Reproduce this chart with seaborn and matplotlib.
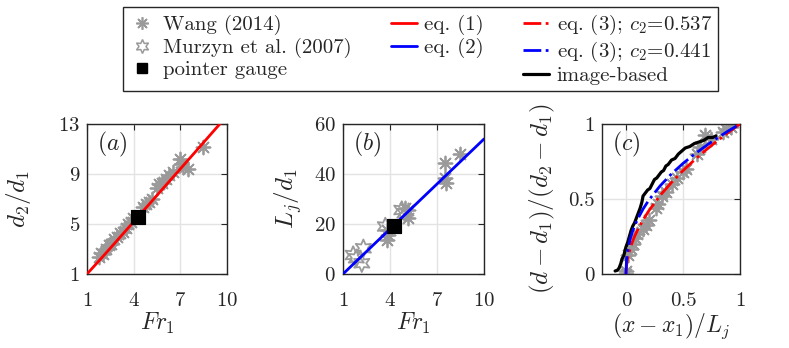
import numpy as np
import pandas as pd
import seaborn as sns
import matplotlib.pyplot as plt
from matplotlib.lines import Line2D

# panel (a): conjugate depth ratio
wang_fr_a = [1.75, 1.9, 2.05, 2.2, 2.4, 2.55, 2.75, 2.95, 3.1, 3.3, 3.5, 3.65, 3.8, 3.95,
             4.6, 4.8, 5.0, 5.2, 5.5, 5.65, 5.8, 6.1, 6.3, 6.5, 7.0, 7.05, 7.2, 7.5, 8.45]
wang_d2 = [2.4, 2.7, 2.6, 3.0, 3.3, 3.4, 3.8, 4.0, 4.3, 4.4, 4.7, 5.0, 5.2, 5.5,
           6.4, 6.6, 6.8, 7.0, 7.9, 8.2, 8.3, 8.6, 8.9, 9.2, 10.2, 9.8, 9.6, 9.4, 11.2]
eq1_fr = [1, 2, 3, 4, 5, 6, 7, 8, 9, 10]
eq1_d2 = [1.0, 2.37, 3.77, 5.18, 6.59, 8.0, 9.41, 10.82, 12.24, 13.65]

# panel (b): jump length
wang_fr_b = [3.8, 3.8, 3.9, 4.95, 5.15, 5.15, 7.5, 7.5, 7.55, 8.5]
wang_lj = [17.6, 13.6, 15.5, 26.3, 25.7, 22.3, 44.4, 38.3, 36.3, 48.2]
murzyn_fr = [1.65, 1.85, 2.2, 2.3, 3.7, 4.75, 4.95]
murzyn_lj = [7.6, 6.3, 4.3, 10.3, 19.0, 25.6, 24.3]
eq2_fr = [1, 10]
eq2_lj = [0, 54]

# pointer gauge
pg_fr = [4.25]
pg_d2 = [5.6]
pg_lj = [19.3]

# panel (c): free-surface profile
wang_xc = [0.0, 0.0, 0.02, 0.04, 0.06, 0.08, 0.1, 0.15, 0.18, 0.2, 0.26, 0.28, 0.32, 0.35,
           0.4, 0.45, 0.5, 0.53, 0.62, 0.65, 0.69, 0.75, 0.85, 0.88, 0.92]
wang_yc = [0.0, 0.02, 0.13, 0.17, 0.2, 0.24, 0.27, 0.3, 0.33, 0.36, 0.44, 0.47, 0.52, 0.55,
           0.6, 0.64, 0.68, 0.7, 0.8, 0.85, 0.93, 0.9, 0.95, 0.97, 0.98]
eq3_x = [0, 0.005, 0.01, 0.02, 0.04, 0.06, 0.08, 0.1, 0.15, 0.2, 0.3, 0.4, 0.5, 0.6, 0.7, 0.8, 0.9, 1.0]
eq3_y537 = [0, 0.058, 0.084, 0.122, 0.178, 0.221, 0.258, 0.29, 0.361, 0.421, 0.524, 0.611,
            0.689, 0.76, 0.826, 0.887, 0.945, 1.0]
eq3_y441 = [0, 0.097, 0.131, 0.178, 0.242, 0.289, 0.328, 0.362, 0.433, 0.492, 0.588, 0.668,
            0.737, 0.798, 0.854, 0.906, 0.955, 1.0]
img_x = [-0.095, -0.075, -0.06, -0.045, -0.035, -0.02, -0.01, 0.0, 0.015, 0.03, 0.045, 0.06,
         0.075, 0.09, 0.11, 0.125, 0.14, 0.15, 0.17, 0.19, 0.21, 0.23, 0.25, 0.27, 0.29, 0.31,
         0.33, 0.35, 0.37, 0.40, 0.43, 0.46, 0.49, 0.52, 0.56, 0.60, 0.64, 0.68, 0.72, 0.76, 0.79]
img_y = [0.02, 0.025, 0.04, 0.07, 0.10, 0.12, 0.15, 0.18, 0.21, 0.25, 0.29, 0.32, 0.34, 0.37,
         0.41, 0.44, 0.48, 0.52, 0.54, 0.56, 0.57, 0.60, 0.63, 0.64, 0.66, 0.68, 0.69, 0.72,
         0.73, 0.76, 0.77, 0.80, 0.82, 0.84, 0.85, 0.87, 0.88, 0.89, 0.91, 0.91, 0.92]

sns.set_style("white")
plt.rcParams['font.family'] = 'serif'
plt.rcParams['font.serif'] = ['cmr10']
plt.rcParams['mathtext.fontset'] = 'cm'
plt.rcParams['axes.formatter.use_mathtext'] = True

gray = '#9a9a9a'
dark = '#262626'
asterisk = (8, 2, 0)
hexagram = (6, 1, 0)

fig = plt.figure(figsize=(7.89, 3.48), dpi=100)
W, H = 789, 348
def add_ax(x0, x1, y0=124, y1=274):
    return fig.add_axes([x0 / W, 1 - y1 / H, (x1 - x0) / W, (y1 - y0) / H])

ax_a = add_ax(87, 227)
ax_b = add_ax(343, 484)
ax_c = add_ax(602, 740)

# (a)
sns.scatterplot(x=wang_fr_a, y=wang_d2, ax=ax_a, marker=asterisk, s=100, color=gray,
                linewidth=1.3, zorder=2)
sns.lineplot(x=eq1_fr, y=eq1_d2, ax=ax_a, color='red', lw=2, zorder=3)
sns.scatterplot(x=pg_fr, y=pg_d2, ax=ax_a, marker='s', s=110, color='black',
                edgecolor='black', zorder=4)
ax_a.set(xlim=(1, 10), ylim=(1, 13), xticks=[1, 4, 7, 10], yticks=[1, 5, 9, 13])
ax_a.set_xlabel('$Fr_1$')
ax_a.set_ylabel('$d_2/d_1$')

# (b)
sns.scatterplot(x=wang_fr_b, y=wang_lj, ax=ax_b, marker=asterisk, s=100, color=gray,
                linewidth=1.3, zorder=2)
sns.scatterplot(x=murzyn_fr, y=murzyn_lj, ax=ax_b, marker=hexagram, s=160,
                facecolor='none', edgecolor=gray, linewidth=1.3, zorder=2)
sns.lineplot(x=eq2_fr, y=eq2_lj, ax=ax_b, color='blue', lw=2, zorder=3)
sns.scatterplot(x=pg_fr, y=pg_lj, ax=ax_b, marker='s', s=110, color='black',
                edgecolor='black', zorder=4)
ax_b.set(xlim=(1, 10), ylim=(0, 60), xticks=[1, 4, 7, 10], yticks=[0, 20, 40, 60])
ax_b.set_xlabel('$Fr_1$')
ax_b.set_ylabel('$L_j/d_1$')

# (c)
sns.scatterplot(x=wang_xc, y=wang_yc, ax=ax_c, marker=asterisk, s=100, color=gray,
                linewidth=1.3, zorder=2)
sns.lineplot(x=img_x, y=img_y, ax=ax_c, color='black', lw=2.3, sort=False, zorder=3)
sns.lineplot(x=eq3_x, y=eq3_y537, ax=ax_c, color='red', lw=2, ls='-.', zorder=4)
sns.lineplot(x=eq3_x, y=eq3_y441, ax=ax_c, color='blue', lw=2, ls='-.', zorder=4)
ax_c.set(xlim=(-0.21, 1), ylim=(0, 1), xticks=[0, 0.5, 1], yticks=[0, 0.5, 1])
ax_c.set_xticklabels(['0', '0.5', '1'])
ax_c.set_yticklabels(['0', '0.5', '1'])
ax_c.set_xlabel('$(x-x_1)/L_j$')
ax_c.set_ylabel('$(d-d_1)/(d_2-d_1)$')

for ax, tag in [(ax_a, '(a)'), (ax_b, '(b)'), (ax_c, '(c)')]:
    ax.grid(True, color='#e3e3e3', lw=1)
    ax.set_axisbelow(True)
    for sp in ax.spines.values():
        sp.set_color(dark)
        sp.set_linewidth(1)
    ax.tick_params(direction='in', length=4, width=0.8, colors=dark, labelsize=15,
                   top=True, right=True)
    ax.tick_params(axis='x', pad=13)
    ax.tick_params(axis='y', pad=5)
    ax.xaxis.label.set_size(17)
    ax.yaxis.label.set_size(18)
    ax.xaxis.labelpad = 1
    ax.text(0.07, 0.96, '$' + tag + '$', transform=ax.transAxes, ha='left', va='top',
            fontsize=17, color=dark)
ax_a.yaxis.labelpad = 18
ax_b.yaxis.labelpad = 7
ax_c.yaxis.labelpad = 8

handles = [
    Line2D([], [], ls='none', marker=asterisk, ms=9, color=gray, mew=1.2),
    Line2D([], [], ls='none', marker=hexagram, ms=10, mfc='none', mec=gray, mew=1.1),
    Line2D([], [], ls='none', marker='s', ms=7, color='black'),
    Line2D([], [], color='red', lw=2),
    Line2D([], [], color='blue', lw=2),
    Line2D([], [], ls='none'),
    Line2D([], [], color='red', lw=2, ls='-.'),
    Line2D([], [], color='blue', lw=2, ls='-.'),
    Line2D([], [], color='black', lw=2.3),
]
labels = ['Wang (2014)', 'Murzyn et al. (2007)', 'pointer gauge', 'eq. (1)', 'eq. (2)', '',
          'eq. (3); $c_2$=0.537', 'eq. (3); $c_2$=0.441', 'image-based']
leg = fig.legend(handles, labels, ncol=3, loc='upper left',
                 bbox_to_anchor=(123 / W, 1 - 7 / H), borderaxespad=0, fontsize=15,
                 frameon=True, fancybox=False, framealpha=1, edgecolor=dark,
                 handlelength=1.25, handletextpad=0.35, columnspacing=1.9,
                 labelspacing=0.12, borderpad=0.3)
leg.get_frame().set_linewidth(1)

fig.savefig('out.png', dpi=100)
